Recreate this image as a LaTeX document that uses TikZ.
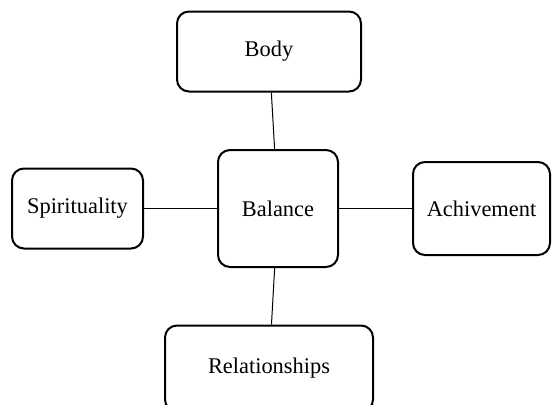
\documentclass[tikz,border=0pt]{standalone}
\usepackage{fontspec}
\setmainfont{Liberation Serif}
\usepackage{tikz}
\tikzset{
    node distance=2cm, % overridden per node below
    }

\begin{document}
\begin{tikzpicture}[x=0.5pt,y=-0.5pt,
boxnode/.style={rectangle, rounded corners=6pt, draw=black, line width=1pt, inner sep=0pt,
                font=\fontsize{11.2}{13}\selectfont},
link/.style={line width=0.5pt},
]
\useasboundingbox (0,0) rectangle (552,404);

\node[boxnode, minimum width=60pt, minimum height=58.5pt] (balance) at (278,208.5) {Balance};
\node[boxnode, minimum width=92pt, minimum height=40pt] (body) [above of=balance, node distance=78.5pt, xshift=-4.5pt] {Body};
\node[boxnode, minimum width=65.5pt, minimum height=40pt] (spirit) [left of=balance, node distance=100.25pt] {Spirituality};
\node[boxnode, minimum width=68.5pt, minimum height=46.5pt] (achieve) [right of=balance, node distance=101.75pt] {Achivement};
\node[boxnode, minimum width=104pt, minimum height=43pt] (relation) [below of=balance, node distance=80pt, xshift=-4.5pt] {Relationships};

\draw[link] (body) -- (balance);
\draw[link] (spirit) -- (balance);
\draw[link] (balance) -- (achieve);
\draw[link] (balance) -- (relation);

\end{tikzpicture}
\end{document}
